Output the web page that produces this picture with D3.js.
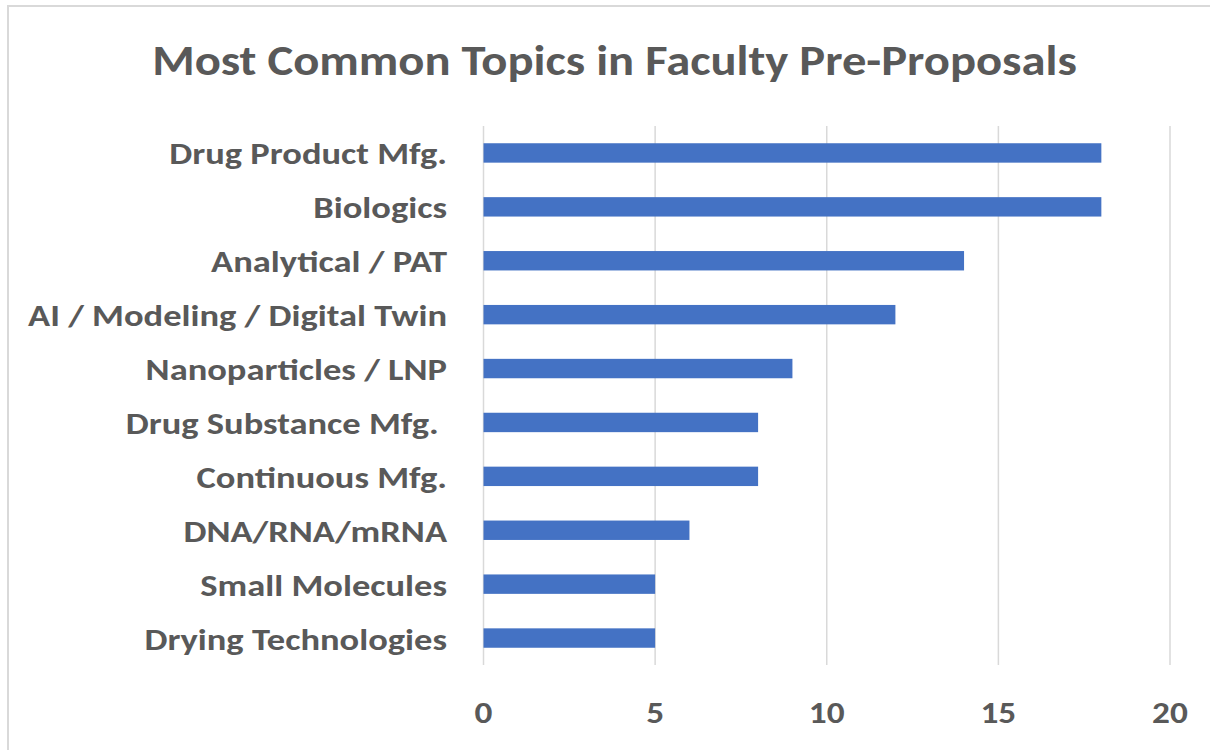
<!DOCTYPE html>
<html>
<head>
<meta charset="utf-8">
<script src="https://cdn.jsdelivr.net/npm/d3@7"></script>
<style>
  html, body { margin: 0; padding: 0; background: #fff; }
  text { font-family: Carlito, Calibri, Lato, "Open Sans", sans-serif; font-weight: bold; fill: #595959; }
</style>
</head>
<body>
<div id="chart"></div>
<script>
const topics = [
  'Drug Product Mfg.',
  'Biologics',
  'Analytical / PAT',
  'AI / Modeling / Digital Twin',
  'Nanoparticles / LNP',
  'Drug Substance Mfg. ',
  'Continuous Mfg.',
  'DNA/RNA/mRNA',
  'Small Molecules',
  'Drying Technologies'
];
const counts = [18, 18, 14, 12, 9, 8, 8, 6, 5, 5];
const xTicks = [0, 5, 10, 15, 20];
const chartTitle = 'Most Common Topics in Faculty Pre-Proposals';

const width = 1210;
const height = 750;
const margin = { top: 126, right: 40, bottom: 85, left: 483.5 };

const svg = d3.select('#chart').append('svg')
  .attr('width', width)
  .attr('height', height);

// chart border
svg.append('rect')
  .attr('x', 8).attr('y', 6)
  .attr('width', width + 10).attr('height', height + 10)
  .attr('fill', 'none')
  .attr('stroke', '#d9d9d9')
  .attr('stroke-width', 2);

const x = d3.scaleLinear().domain([0, 20]).range([margin.left, 1170]);
const y = d3.scaleBand().domain(topics).range([margin.top, height - margin.bottom]).paddingInner(0.64).paddingOuter(0.32);

// fit text horizontally to the reference width
function squeeze(sel, target, anchorX) {
  const w = sel.node().getComputedTextLength();
  const k = target / w;
  sel.attr('transform', `translate(${anchorX},0) scale(${k},1) translate(${-anchorX},0)`);
  return k;
}

// vertical gridlines
svg.append('g')
  .selectAll('line')
  .data(xTicks)
  .join('line')
  .attr('x1', d => x(d)).attr('x2', d => x(d))
  .attr('y1', margin.top).attr('y2', height - margin.bottom)
  .attr('stroke', '#d9d9d9')
  .attr('stroke-width', 1.5);

// bars
svg.append('g')
  .selectAll('rect')
  .data(counts)
  .join('rect')
  .attr('x', x(0))
  .attr('y', (d, i) => y(topics[i]))
  .attr('width', d => x(d) - x(0))
  .attr('height', y.bandwidth())
  .attr('fill', '#4472c4');

// category labels
const labels = svg.append('g')
  .selectAll('text')
  .data(topics)
  .join('text')
  .attr('x', 447)
  .attr('y', d => y(d) + y.bandwidth() / 2 + 11.5)
  .attr('text-anchor', 'end')
  .style('font-size', '30.5px')
  .style('white-space', 'pre')
  .text(d => d);

const ref = labels.filter(d => d.startsWith('AI'));
const k = ref.node().getComputedTextLength();
const ratio = 419 / k;
labels.attr('transform', `translate(447,0) scale(${ratio},1) translate(-447,0)`);

// x tick labels
const ticks = svg.append('g')
  .selectAll('text')
  .data(xTicks)
  .join('text')
  .attr('x', d => x(d))
  .attr('y', 723)
  .attr('text-anchor', 'middle')
  .style('font-size', '29.5px')
  .text(d => d);
ticks.each(function(d) {
  const cx = x(d);
  d3.select(this).attr('transform', `translate(${cx},0) scale(${ratio},1) translate(${-cx},0)`);
});

// title
const title = svg.append('text')
  .attr('x', 614.5)
  .attr('y', 75)
  .attr('text-anchor', 'middle')
  .style('font-size', '42px')
  .text(chartTitle);
squeeze(title, 925, 614.5);
</script>
</body>
</html>
